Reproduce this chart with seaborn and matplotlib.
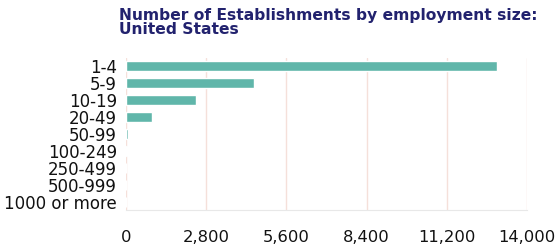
import pandas as pd
import numpy as np
import seaborn as sns
import matplotlib.pyplot as plt
from matplotlib.ticker import FuncFormatter

# 数据
size_classes = ['1-4', '5-9', '10-19', '20-49', '50-99', '100-249', '250-499', '500-999', '1000 or more']
establishments = [12950, 4470, 2450, 900, 60, 40, 15, 8, 5]
x_ticks = [0, 2800, 5600, 8400, 11200, 14000]

df = pd.DataFrame({'size': size_classes, 'count': establishments})

sns.set_style('white')
plt.rcParams['font.family'] = ['DejaVu Sans']

fig = plt.figure(figsize=(5.55, 2.47), dpi=100)
ax = fig.add_axes([0.227, 0.148, 0.723, 0.619])

sns.barplot(data=df, x='count', y='size', color='#60b6aa', saturation=1,
            width=0.58, ax=ax)

# 图表美化
ax.set_xlim(0, 14000)
ax.set_xticks(x_ticks)
ax.xaxis.set_major_formatter(FuncFormatter(lambda x, _: f'{x:,.0f}'))
ax.grid(axis='x', color='#f5e0da', linewidth=1)
ax.set_axisbelow(True)
for side in ['top', 'right', 'left']:
    ax.spines[side].set_visible(False)
ax.spines['bottom'].set_color('#e8e8e8')
ax.set_xlabel('')
ax.set_ylabel('')
ax.tick_params(axis='y', labelsize=12, pad=6.5, length=0, labelcolor='#111111')
ax.tick_params(axis='x', labelsize=11.8, pad=14, length=0, labelcolor='#111111')

fig.text(0.214, 0.968, 'Number of Establishments by employment size:\nUnited States',
         fontsize=11.2, fontweight='bold', color='#22226e', va='top', ha='left',
         linespacing=0.92)

plt.savefig('out.png', dpi=100)
